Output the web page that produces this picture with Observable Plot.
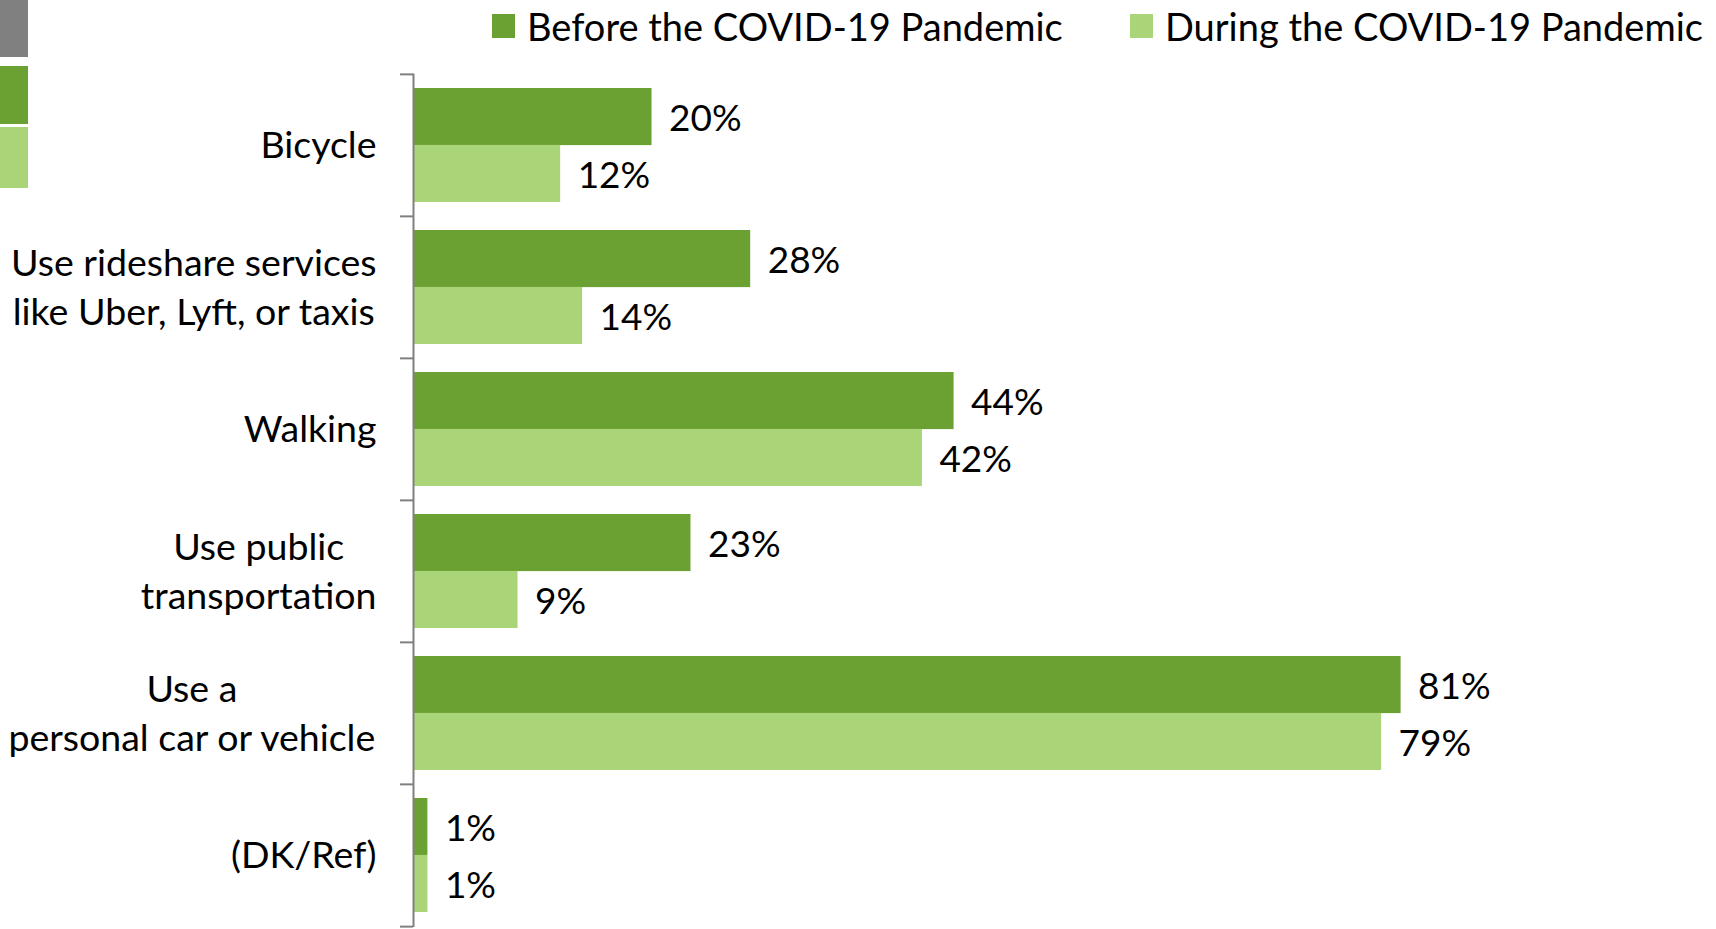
<!DOCTYPE html>
<html>
<head>
<meta charset="utf-8">
<script src="https://cdn.jsdelivr.net/npm/d3@7"></script>
<script src="https://cdn.jsdelivr.net/npm/@observablehq/plot@0.6"></script>
<style>
  html, body { margin: 0; padding: 0; background: #fff; }
  body { width: 1716px; height: 929px; position: relative; overflow: hidden; font-family: Lato, "Open Sans", sans-serif; }
  #chart { position: absolute; left: 0; top: 0; }
  .legend { position: absolute; top: 0; left: 0; width: 1716px; height: 60px; font-size: 38px; color: #000; }
  .item { position: absolute; top: 4px; display: flex; align-items: center; height: 44px; white-space: nowrap; }
  .sw { width: 23px; height: 24px; margin-right: 12px; }
  .deco { position: absolute; left: 0; width: 28px; }
</style>
</head>
<body>
<div id="chart"></div>
<div class="deco" style="top:0;height:57px;background:#808080"></div>
<div class="deco" style="top:66px;height:58px;background:#6ba032"></div>
<div class="deco" style="top:127px;height:61px;background:#a9d578"></div>
<div class="legend" id="legend"></div>
<script>
const categories = [
  "Bicycle",
  "Use rideshare services\nlike Uber, Lyft, or taxis",
  "Walking",
  "Use public\ntransportation",
  "Use a\npersonal car or vehicle",
  "(DK/Ref)"
];
const seriesNames = ["Before the COVID-19 Pandemic", "During the COVID-19 Pandemic"];
const beforeValues = [19.5, 27.6, 44.3, 22.7, 81, 1.1];
const duringValues = [12, 13.8, 41.7, 8.5, 79.4, 1.1];
const colors = ["#6ba032", "#a9d578"];

const rows = categories.map((c, i) => ({category: c, before: beforeValues[i], during: duringValues[i]}));

const W = 1716, H = 929;
const marginTop = 73.5, marginBottom = 2, marginLeft = 414, marginRight = 84;
const padInner = 0.2, padOuter = 0.1;
const step = (H - marginTop - marginBottom) / (categories.length - padInner + 2 * padOuter);
const bw = step * (1 - padInner);

const catFont = 37.5, valFont = 37;
const ctx = document.createElement("canvas").getContext("2d");
ctx.font = `${catFont}px Lato`;
const maxLineW = c => Math.max(...c.split("\n").map(s => ctx.measureText(s).width));

const labelGap = 38;
const catMarks = categories.map(c => {
  const multi = c.includes("\n");
  return Plot.text([c], {
    y: d => d, text: d => d, frameAnchor: "left",
    textAnchor: multi ? "middle" : "end",
    dx: multi ? -labelGap - maxLineW(c) / 2 : -labelGap,
    dy: -3,
    fontSize: catFont, lineHeight: 1.31, fill: "#000"
  });
});

const fmt = v => Math.round(v) + "%";

const chart = Plot.plot({
  width: W, height: H,
  marginTop, marginBottom, marginLeft, marginRight,
  style: {fontFamily: "Lato, 'Open Sans', sans-serif", background: "transparent"},
  x: {domain: [0, 100], axis: null},
  y: {domain: categories, paddingInner: padInner, paddingOuter: padOuter, axis: null, label: null},
  marks: [
    Plot.barX(rows, {y: "category", x: "before", fill: colors[0], insetBottom: bw / 2}),
    Plot.barX(rows, {y: "category", x: "during", fill: colors[1], insetTop: bw / 2}),
    Plot.text(rows, {y: "category", x: "before", text: d => fmt(d.before), dy: -bw / 4 + 2, dx: 17, textAnchor: "start", fontSize: valFont, fill: "#000"}),
    Plot.text(rows, {y: "category", x: "during", text: d => fmt(d.during), dy: bw / 4 + 2, dx: 17, textAnchor: "start", fontSize: valFont, fill: "#000"}),
    Plot.ruleX([0], {stroke: "#808080", strokeWidth: 2, dx: -1}),
    Plot.axisY(categories, {tickSize: 13, tickFormat: () => "", label: null, stroke: "#808080", strokeWidth: 2, dy: -step / 2, dx: -1}),
    Plot.axisY([categories[categories.length - 1]], {tickSize: 13, tickFormat: () => "", label: null, stroke: "#808080", strokeWidth: 2, dy: step / 2, dx: -1}),
    ...catMarks
  ]
});
document.getElementById("chart").appendChild(chart);

const legend = document.getElementById("legend");
const legendX = [492, 1130];
seriesNames.forEach((name, i) => {
  const item = document.createElement("div");
  item.className = "item";
  item.style.left = legendX[i] + "px";
  item.innerHTML = `<span class="sw" style="background:${colors[i]}"></span><span>${name}</span>`;
  legend.appendChild(item);
});
</script>
</body>
</html>
